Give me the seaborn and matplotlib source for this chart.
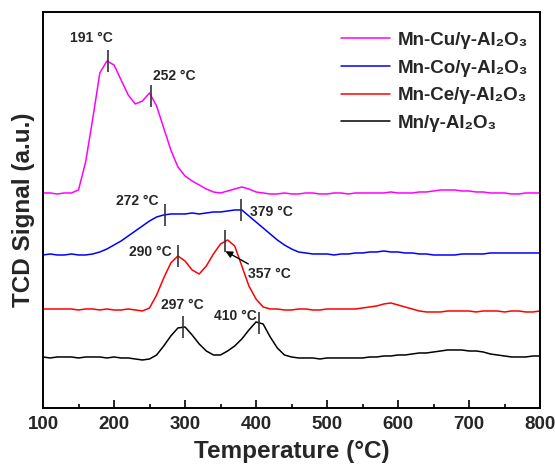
import matplotlib
matplotlib.use("Agg")
import matplotlib.pyplot as plt
import numpy as np
import pandas as pd
import seaborn as sns
from matplotlib.ticker import MultipleLocator

# H2-TPR profiles, signal (arbitrary units)
TEMP = np.arange(100, 801, 10)

MN_CU = [215, 215, 214, 215, 215,
         218, 246, 289, 335, 347, 343, 328, 313, 304, 307, 315, 302, 280, 258, 241,
         232, 227, 223, 219, 216, 215, 217, 219, 221, 219, 216,
         215, 214, 214, 215, 214, 214, 215, 215, 214, 214, 215, 215, 214, 215, 215, 215,
         215, 215, 216, 215, 215, 215, 216, 216, 217, 218, 218, 218, 217, 217, 216, 216,
         215, 215, 215, 214, 214, 215, 215, 215]

MN_CO = [153, 154, 153, 153, 154, 153, 153, 154,
         156, 159, 163, 167, 172, 177, 182, 187, 191, 193, 194, 194, 194, 195, 194, 195,
         196, 196, 197, 198, 198, 192, 186, 180, 174, 168, 163, 159, 156, 155,
         154, 154, 154, 153, 154, 154, 155, 155, 156, 156, 157, 156, 156, 155, 155, 154,
         154, 153, 153, 153, 153, 154, 154, 154, 154, 155, 155, 155, 155, 155, 155, 155, 155]

MN_CE = [99, 99, 99, 99, 99, 98, 99, 99, 98, 99, 98, 98, 99, 98,
         97, 100, 113, 130, 145, 152, 147, 138, 134, 142, 154, 164, 168, 162, 142, 122,
         109, 101, 99,
         99, 98, 98, 99, 99, 98, 98, 99, 99, 99, 99, 99, 100, 101, 102, 104, 105, 103,
         101, 99, 97, 96, 96, 96, 97, 97, 97, 97, 96, 97, 97, 97, 96, 97, 97, 96, 96, 97]

MN = [51, 50, 51, 51, 51, 50, 51, 51, 51, 50, 51, 50, 50, 49,
      48, 49, 53, 62, 72, 80, 81, 73, 64, 57, 53, 53, 57, 62, 69, 78, 86, 84, 71, 60,
      53, 51,
      50, 50, 50, 49, 50, 50, 50, 50, 50, 50, 51, 51, 52, 52, 53, 53, 54, 55, 55, 56,
      57, 58, 58, 58, 57, 57, 56, 54, 53, 52, 51, 51, 51, 52, 52]

SAMPLES = ["Mn-Cu/γ-Al₂O₃", "Mn-Co/γ-Al₂O₃", "Mn-Ce/γ-Al₂O₃", "Mn/γ-Al₂O₃"]
COLORS = ["#FF00FF", "#0000FF", "#FF0000", "#000000"]

# peak markers: which curve, where the marker sits, and the printed label
PEAK_SAMPLE = [0, 0, 1, 1, 2, 2, 3, 3]
PEAK_T = [191, 252, 272, 379, 290, 357, 297, 404]
PEAK_TEXT = ["191 °C", "252 °C", "272 °C", "379 °C", "290 °C", "357 °C", "297 °C", "410 °C"]
LABEL_OFFSET = [(-11.5, 16.5), (16.5, 14.4), (-20, 10), (21.6, -1.4),
                (-20, 3), (31.7, -16.6), (-0.7, 15.8), (-17, 5)]

sns.set_theme(style="white")
plt.rcParams["font.family"] = ["Liberation Sans", "DejaVu Sans"]
plt.rcParams["font.weight"] = "bold"
plt.rcParams["axes.labelweight"] = "bold"

curves = [MN_CU, MN_CO, MN_CE, MN]
df = pd.concat(
    [pd.DataFrame({"Temperature": TEMP, "Signal": vals, "Sample": name})
     for name, vals in zip(SAMPLES, curves)],
    ignore_index=True,
)

fig = plt.figure(figsize=(5.55, 4.66), dpi=100)
ax = fig.add_axes([0.0775, 0.1245, 0.8955, 0.8498])

sns.lineplot(data=df, x="Temperature", y="Signal", hue="Sample", hue_order=SAMPLES,
             palette=COLORS, estimator=None, sort=False, linewidth=1.1, ax=ax)

# peak ticks + labels
for i, t in enumerate(PEAK_T):
    y = np.interp(t, TEMP, curves[PEAK_SAMPLE[i]])
    ax.vlines(t, y - 11, y + 11, color="#333333", linewidth=1.2)
    dx, dy = LABEL_OFFSET[i]
    if PEAK_TEXT[i] == "357 °C":
        ax.annotate(PEAK_TEXT[i], xy=(t, y - 10), xytext=(dx, dy), textcoords="offset points",
                    ha="center", va="center", fontsize=10, fontweight="bold",
                    arrowprops=dict(arrowstyle="-|>", color="black", lw=1,
                                    mutation_scale=10, shrinkA=0, shrinkB=0,
                                    relpos=(0.2, 0.9)))
    else:
        ax.annotate(PEAK_TEXT[i], xy=(t, y), xytext=(dx, dy), textcoords="offset points",
                    ha="center", va="center", fontsize=10, fontweight="bold")

ax.set_xlim(100, 800)
ax.set_ylim(0, 396)
ax.xaxis.set_major_locator(MultipleLocator(100))
ax.xaxis.set_minor_locator(MultipleLocator(50))
ax.set_yticks([])
ax.tick_params(axis="x", which="both", direction="in", bottom=True, color="black",
               width=1.2, labelsize=13.5, pad=5.5)
ax.tick_params(axis="x", which="major", length=5.5)
ax.tick_params(axis="x", which="minor", length=3)
for s in ax.spines.values():
    s.set_color("black")
    s.set_linewidth(1.4)

ax.set_xlabel("Temperature (°C)", fontsize=17.5, fontweight="bold", labelpad=5)
ax.set_ylabel("TCD Signal (a.u.)", fontsize=17.5, fontweight="bold", labelpad=6)

ax.legend(loc="upper left", bbox_to_anchor=(0.6, 0.95), frameon=False,
          handlelength=2.6, handletextpad=0.4, labelspacing=0.56,
          borderpad=0, borderaxespad=0, prop={"weight": "bold", "size": 13.5})

fig.savefig("out.png", dpi=100)
plt.close(fig)
